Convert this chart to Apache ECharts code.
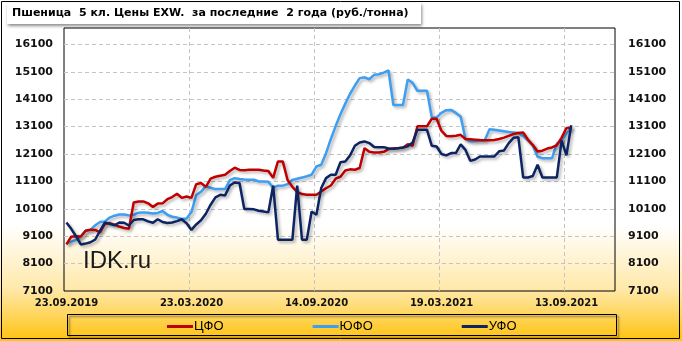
<!DOCTYPE html>
<html>
<head>
<meta charset="utf-8">
<script src="https://cdn.jsdelivr.net/npm/echarts@6/dist/echarts.min.js"></script>
<style>html,body{margin:0;padding:0;background:#fff;}#c{width:682px;height:341px;}</style>
</head>
<body>
<div id="c"></div>
<script>
const titleText = 'Пшеница  5 кл. Цены EXW.  за последние  2 года (руб./тонна)';
const tickLabels = ['23.09.2019', '23.03.2020', '14.09.2020', '19.03.2021', '13.09.2021'];
const seriesNames = ['ЦФО', 'ЮФО', 'УФО'];
const cfo = [8800,9080,9100,9090,9300,9340,9330,9240,9550,9580,
 9520,9450,9400,9370,10330,10370,10370,10300,10170,10290,
 10300,10450,10530,10650,10500,10550,10500,11000,11040,10900,
 11200,11270,11310,11340,11480,11600,11520,11510,11525,11525,
 11525,11500,11480,11230,11830,11830,11150,10900,10720,10640,
 10615,10615,10615,10735,10850,10950,11200,11270,11500,11540,
 11525,11590,12315,12180,12155,12155,12180,12280,12300,12315,
 12330,12460,12400,13115,13115,13115,13390,13390,12950,12760,
 12750,12770,12800,12650,12640,12625,12610,12600,12600,12615,
 12650,12700,12760,12830,12870,12885,12620,12430,12190,12220,
 12300,12340,12420,12700,13050,13060];
const yufo = [8830,8900,8960,9090,9300,9330,9500,9620,9640,9780,
 9850,9890,9890,9860,9880,9960,9970,9960,9930,9950,
 10020,9880,9810,9780,9730,9750,9980,10600,10720,10930,
 10870,10820,10820,10820,11150,11220,11190,11170,11160,11160,
 11100,11100,11090,10870,10945,10945,11000,11150,11200,11240,
 11290,11345,11645,11710,12130,12650,13120,13550,13940,14300,
 14600,14870,14900,14830,14990,15010,15070,15150,13890,13890,
 13890,14820,14700,14410,14410,14410,13430,13440,13600,13700,
 13710,13600,13470,12650,12570,12570,12580,12590,13000,12985,
 12960,12930,12900,12890,12870,12760,12600,12420,12000,11950,
 11950,11950,12480,12590,12860,13060];
const ufo = [9600,9370,9100,8800,8830,8880,8980,9300,9600,9550,
 9500,9600,9590,9490,9690,9720,9715,9640,9590,9720,
 9620,9585,9600,9650,9720,9570,9330,9530,9680,9920,
 10250,10520,10610,10590,10950,11060,11040,10095,10095,10080,
 10030,10000,9970,10945,8975,8975,8975,8975,10945,8975,
 8975,10000,9885,10860,11220,11345,11345,11800,11830,12050,
 12400,12520,12560,12500,12360,12350,12350,12300,12290,12315,
 12340,12380,12520,12985,12985,12985,12400,12375,12100,12050,
 12135,12135,12450,12250,11850,11900,12010,12010,12010,12010,
 12200,12230,12500,12690,12715,11245,11245,11300,11710,11245,
 11245,11245,11245,12600,12050,13150];
const colors = ['#C00000', '#3D9EF2', '#0D2463'];

const toXY = arr => arr.map((v, i) => [i, v]);
const chart = echarts.init(document.getElementById('c'), null, {renderer: 'canvas'});
const lineShadow = {shadowColor: 'rgba(0,0,0,0.3)', shadowBlur: 3, shadowOffsetX: 2, shadowOffsetY: 2};
const yLabel = {fontFamily: 'DejaVu Sans', fontWeight: 'bold', fontSize: 11, color: '#111', formatter: v => String(v)};

chart.setOption({
  animation: false,
  backgroundColor: {type: 'linear', x: 0, y: 0, x2: 0, y2: 1, colorStops: [
    {offset: 0, color: '#ffffff'}, {offset: 0.66, color: '#ffffff'},
    {offset: 0.85, color: '#FFE8A8'}, {offset: 1, color: '#FFC20E'}]},
  grid: {left: 64, right: 67, top: 28, bottom: 50, show: true, borderColor: '#000', borderWidth: 1, backgroundColor: 'transparent'},
  xAxis: {
    type: 'value', min: -0.5, max: 114.1, interval: 26,
    axisLine: {show: false}, axisTick: {show: false},
    axisLabel: {showMaxLabel: false, margin: 7, padding: [0, 0, 0, 5],
      fontFamily: 'DejaVu Sans', fontWeight: 'bold', fontSize: 10, color: '#111',
      formatter: v => { const k = (v + 0.5) / 26; return Math.abs(k - Math.round(k)) < 0.01 ? tickLabels[Math.round(k)] : ''; }},
    splitLine: {show: true, showMinLine: false, showMaxLine: false, lineStyle: {color: '#C4C4C4', type: [4, 3], width: 1}}
  },
  yAxis: [
    {type: 'value', min: 7100, max: 16700, interval: 1000, position: 'left',
     axisLine: {show: false}, axisTick: {show: false},
     axisLabel: Object.assign({showMaxLabel: false, margin: 11}, yLabel),
     splitLine: {show: true, showMaxLine: false, showMinLine: false, lineStyle: {color: '#C4C4C4', type: [4, 3], width: 1}}},
    {type: 'value', min: 7100, max: 16700, interval: 1000, position: 'right',
     axisLine: {show: false}, axisTick: {show: false},
     axisLabel: Object.assign({showMaxLabel: false, margin: 13}, yLabel),
     splitLine: {show: false}}
  ],
  legend: {
    data: seriesNames, left: 162, top: 315, icon: 'rect', itemWidth: 26, itemHeight: 3, itemGap: 89,
    textStyle: {fontFamily: 'Liberation Sans', fontSize: 13, color: '#000', padding: [0, 0, 0, -4]}
  },
  graphic: [
    {type: 'rect', z: 0, shape: {x: 1.5, y: 1.5, width: 678, height: 337}, style: {fill: 'none', stroke: '#000', lineWidth: 1}},
    {type: 'rect', z: 1, shape: {x: 7, y: 3, width: 414, height: 21},
     style: {fill: '#fff', shadowColor: 'rgba(0,0,0,0.45)', shadowBlur: 3, shadowOffsetX: 1, shadowOffsetY: 2}},
    {type: 'text', z: 2, left: 12, top: 8, style: {text: titleText, fontFamily: 'DejaVu Sans', fontWeight: 'bold', fontSize: 11, fill: '#000'}},
    {type: 'rect', z: 1, shape: {x: 67.5, y: 314.5, width: 549, height: 21},
     style: {fill: 'none', stroke: '#000', lineWidth: 1, shadowColor: 'rgba(0,0,0,0.5)', shadowBlur: 2, shadowOffsetX: 2, shadowOffsetY: 2}},
    {type: 'text', z: 1, left: 83, top: 249, style: {text: 'IDK.ru', fontFamily: 'Liberation Sans', fontSize: 24, fill: '#1a1a1a'}}
  ],
  series: [
    {name: seriesNames[0], type: 'line', data: toXY(cfo), symbol: 'none', color: colors[0], z: 4, lineStyle: Object.assign({width: 2.5, color: colors[0]}, lineShadow)},
    {name: seriesNames[1], type: 'line', data: toXY(yufo), symbol: 'none', color: colors[1], z: 3, lineStyle: Object.assign({width: 2.5, color: colors[1]}, lineShadow)},
    {name: seriesNames[2], type: 'line', data: toXY(ufo), symbol: 'none', color: colors[2], z: 5, lineStyle: Object.assign({width: 2.5, color: colors[2]}, lineShadow)}
  ]
});
</script>
</body>
</html>
